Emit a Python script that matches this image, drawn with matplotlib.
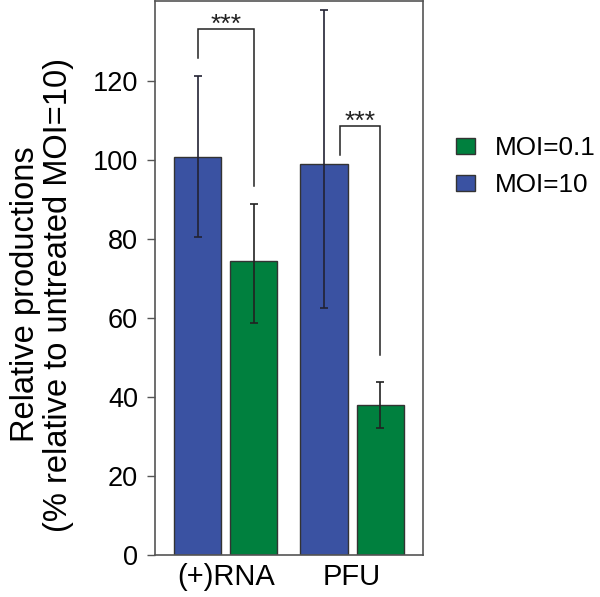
import numpy as np
import matplotlib
matplotlib.use('Agg')
import matplotlib.pyplot as plt
from matplotlib.patches import Patch

plt.rcParams['font.family'] = ['Liberation Sans', 'DejaVu Sans']

groups = ['(+)RNA', 'PFU']
series = ['MOI=10', 'MOI=0.1']
moi10 = [100.8, 99.1]
moi10_lo = [80.7, 62.6]
moi10_hi = [121.3, 138.0]
moi01 = [74.4, 37.9]
moi01_lo = [58.7, 32.3]
moi01_hi = [88.9, 43.8]

# significance brackets: (x left, x right, y top, left leg bottom, right leg bottom)
brackets = [
    (-0.222, 0.222, 133.4, 125.9, 93.4),
    (0.900, 1.222, 108.8, 101.4, 50.8),
]
star = '***'

blue = '#3a52a2'
green = '#00803e'
edge = '#333333'

fig = plt.figure(figsize=(6.0, 5.97), dpi=100)
ax = fig.add_axes([0.258, 0.0704, 0.447, 0.928])

x = np.arange(len(groups))
w = 0.374
off = 0.222

def errs(v, lo, hi):
    v = np.array(v)
    return [v - np.array(lo), np.array(hi) - v]

ax.bar(x - off, moi10, w, color=blue, edgecolor=edge, linewidth=1.0, zorder=2)
ax.bar(x + off, moi01, w, color=green, edgecolor=edge, linewidth=1.0, zorder=2)
ax.errorbar(x - off, moi10, yerr=errs(moi10, moi10_lo, moi10_hi), fmt='none',
            ecolor='#222233', elinewidth=1.2, capsize=3, capthick=1.2, zorder=3)
ax.errorbar(x + off, moi01, yerr=errs(moi01, moi01_lo, moi01_hi), fmt='none',
            ecolor='#222222', elinewidth=1.2, capsize=3, capthick=1.2, zorder=3)

for xl, xr, yt, yl, yr in brackets:
    ax.plot([xl, xl, xr, xr], [yl, yt, yt, yr], color='#222222', lw=1.1,
            solid_joinstyle='miter', zorder=3)
    ax.text((xl + xr) / 2, yt - 0.8, star, ha='center', va='baseline',
            fontsize=19, color='#222222')

ax.set_xlim(-0.56, 1.56)
ax.set_ylim(0, 140.4)
ax.set_yticks(np.arange(0, 121, 20))
ax.set_xticks(x)
ax.set_xticklabels(groups)
ax.tick_params(axis='x', length=0, labelsize=21, pad=6)
ax.tick_params(axis='y', length=6, width=1.0, labelsize=19.5, pad=6,
               direction='out', color='#555555')
for s in ax.spines.values():
    s.set_color('#555555')
    s.set_linewidth(1.2)

ax.set_ylabel('Relative productions\n(% relative to untreated MOI=10)',
              fontsize=23.5, linespacing=1.1)
ax.yaxis.set_label_coords(-0.30, 0.47)

handles = [Patch(facecolor=green, edgecolor=edge, label='MOI=0.1'),
           Patch(facecolor=blue, edgecolor=edge, label='MOI=10')]
fig.legend(handles=handles, loc='center left', bbox_to_anchor=(0.742, 0.7207),
           frameon=False, fontsize=18.8, handlelength=0.75, handleheight=0.6,
           handletextpad=0.75, labelspacing=0.5, borderpad=0.4,
           borderaxespad=0.0)

fig.savefig('out.png', dpi=100)
